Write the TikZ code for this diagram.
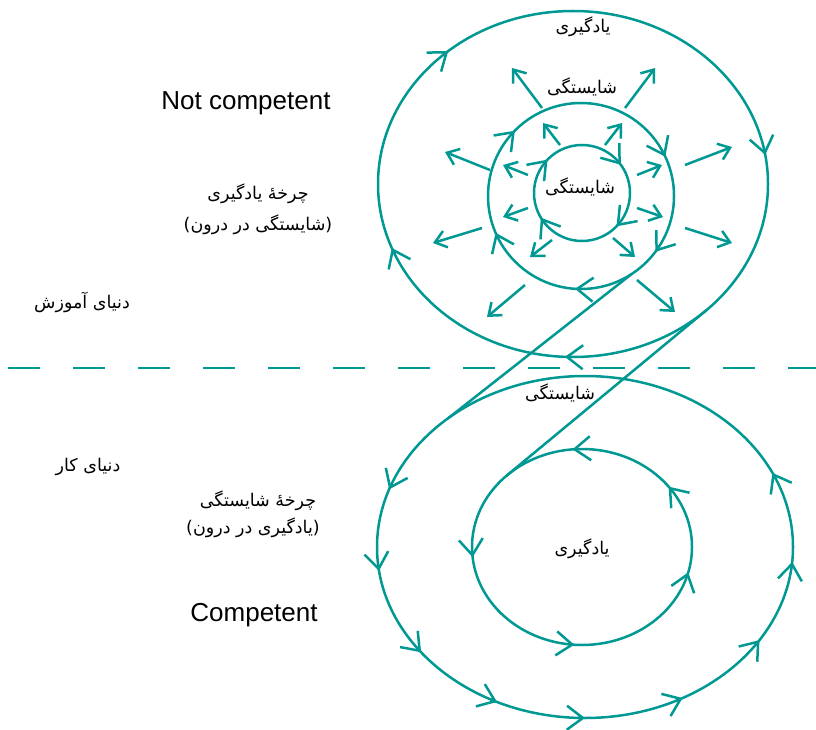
\documentclass[tikz,border=0pt]{standalone}
\usepackage{fontspec}
\setmainfont{Liberation Sans}
\newfontfamily\fa[Script=Arabic]{DejaVu Sans}
\TeXXeTstate=1
\usetikzlibrary{arrows.meta,calc}
\definecolor{cyc}{RGB}{0,152,146}
\newcommand{\fatext}[1]{\beginR #1\endR}

\begin{document}
\begin{tikzpicture}[x=1pt, y=-1pt,
		cycleline/.style={draw=cyc, line width=2.5pt},
		flowmark/.style={cycleline, -{Straight Barb[length=16pt, width=24pt]}},
		spoke/.style={cycleline, -{Straight Barb[length=11pt, width=17pt]}},
		fatxt/.style={font=\fa\fontsize{17.5}{21}\selectfont},
		entxt/.style={font=\fontsize{26}{30}\selectfont}]
			\useasboundingbox (0,0) rectangle (816,730);
			
			\coordinate (lo) at (573,184);
			\coordinate (lm) at (581,196);
			\coordinate (li) at (582,193);
			\coordinate (co) at (585,547);
			\coordinate (ci) at (582,547);
			
			\draw[cycleline] (lo) ellipse [x radius=195, y radius=173];
			\draw[cycleline] (lm) circle [radius=93];
			\draw[cycleline] (li) circle [radius=48];
			\draw[cycleline] (co) ellipse [x radius=208, y radius=171];
			\draw[cycleline] (ci) ellipse [x radius=110, y radius=98];
			
			\path (co) ++(228.8:208 and 171) coordinate (a1);
			\path (lm) ++(57:93) coordinate (a2);
			\path (ci) ++(226.7:110 and 98) coordinate (b1);
			\path (lo) ++(46.6:195 and 173) coordinate (b2);
			\draw[cycleline] (a1) -- (a2);
			\draw[cycleline] (b1) -- (b2);
			
			\draw[cycleline, dash pattern=on 32pt off 33pt] (8,368) -- (816,368);
			
			\foreach \a in {92.4, 158.3, 230.2, 350.3} {
				\draw[flowmark] ($(lo)+(\a-2:195 and 173)$) -- ($(lo)+(\a:195 and 173)$);
			}
			\foreach \a in {36.9, 93.7, 156.7, 224.6, 335} {
				\draw[flowmark] ($(lm)+(\a-2:93)$) -- ($(lm)+(\a:93)$);
			}
			\foreach \a in {44, 149, 224, 324} {
				\draw[flowmark] ($(li)+(\a-3:48)$) -- ($(li)+(\a:48)$);
			}
			\foreach \a in {5, 33, 62, 90, 115, 142, 172, 199.7, 334.3} {
				\draw[flowmark] ($(co)+(\a+2:208 and 171)$) -- ($(co)+(\a:208 and 171)$);
			}
			\foreach \a in {15, 94, 174, 265, 322} {
				\draw[flowmark] ($(ci)+(\a+2:110 and 98)$) -- ($(ci)+(\a:110 and 98)$);
			}
			
			\foreach \xa/\ya/\xb/\yb in {542/108/512/68, 625/108/655/68, 490/170/445/152, 685/165/732/147,
				482/228/433/243, 685/228/732/243, 525/285/487/317, 637/280/675/312} {
				\draw[spoke] (\xa,\ya) -- (\xb,\yb);
			}
			\foreach \xa/\ya/\xb/\yb in {560/145/543/123, 605/145/622/123, 528/175/503/165, 637/175/662/165,
				528/208/503/217, 637/208/663/217, 552/240/530/257, 613/238/635/257} {
				\draw[spoke] (\xa,\ya) -- (\xb,\yb);
			}
			
			\node[fatxt] (lrntop) at (583,27) {\fatext{یادگیری}};
			\node[fatxt] (cmpmid) at (582,87) {\fatext{شایستگی}};
			\node[fatxt] (cmpin) at (580,187) {\fatext{شایستگی}};
			\node[fatxt] (cmpbot) at (560,393) {\fatext{شایستگی}};
			\node[fatxt] (lrnbot) at (582,549) {\fatext{یادگیری}};
			
			\node[entxt] (notcomp) at (246,103) {Not competent};
			\node[entxt] (comp) at (254,615) {Competent};
			
			\node[fatxt] (lcycle) at (258,194) {\fatext{چرخهٔ یادگیری}};
			\node[fatxt] (lcyclesub) at (258,225) {\fatext{(شایستگی در درون)}};
			\node[fatxt] (ccycle) at (258,501) {\fatext{چرخهٔ شایستگی}};
			\node[fatxt] (ccyclesub) at (253,528) {\fatext{(یادگیری در درون)}};
			\node[fatxt] (school) at (82,302) {\fatext{دنیای آموزش}};
			\node[fatxt] (work) at (88,467) {\fatext{دنیای کار}};
		\end{tikzpicture}
\end{document}
